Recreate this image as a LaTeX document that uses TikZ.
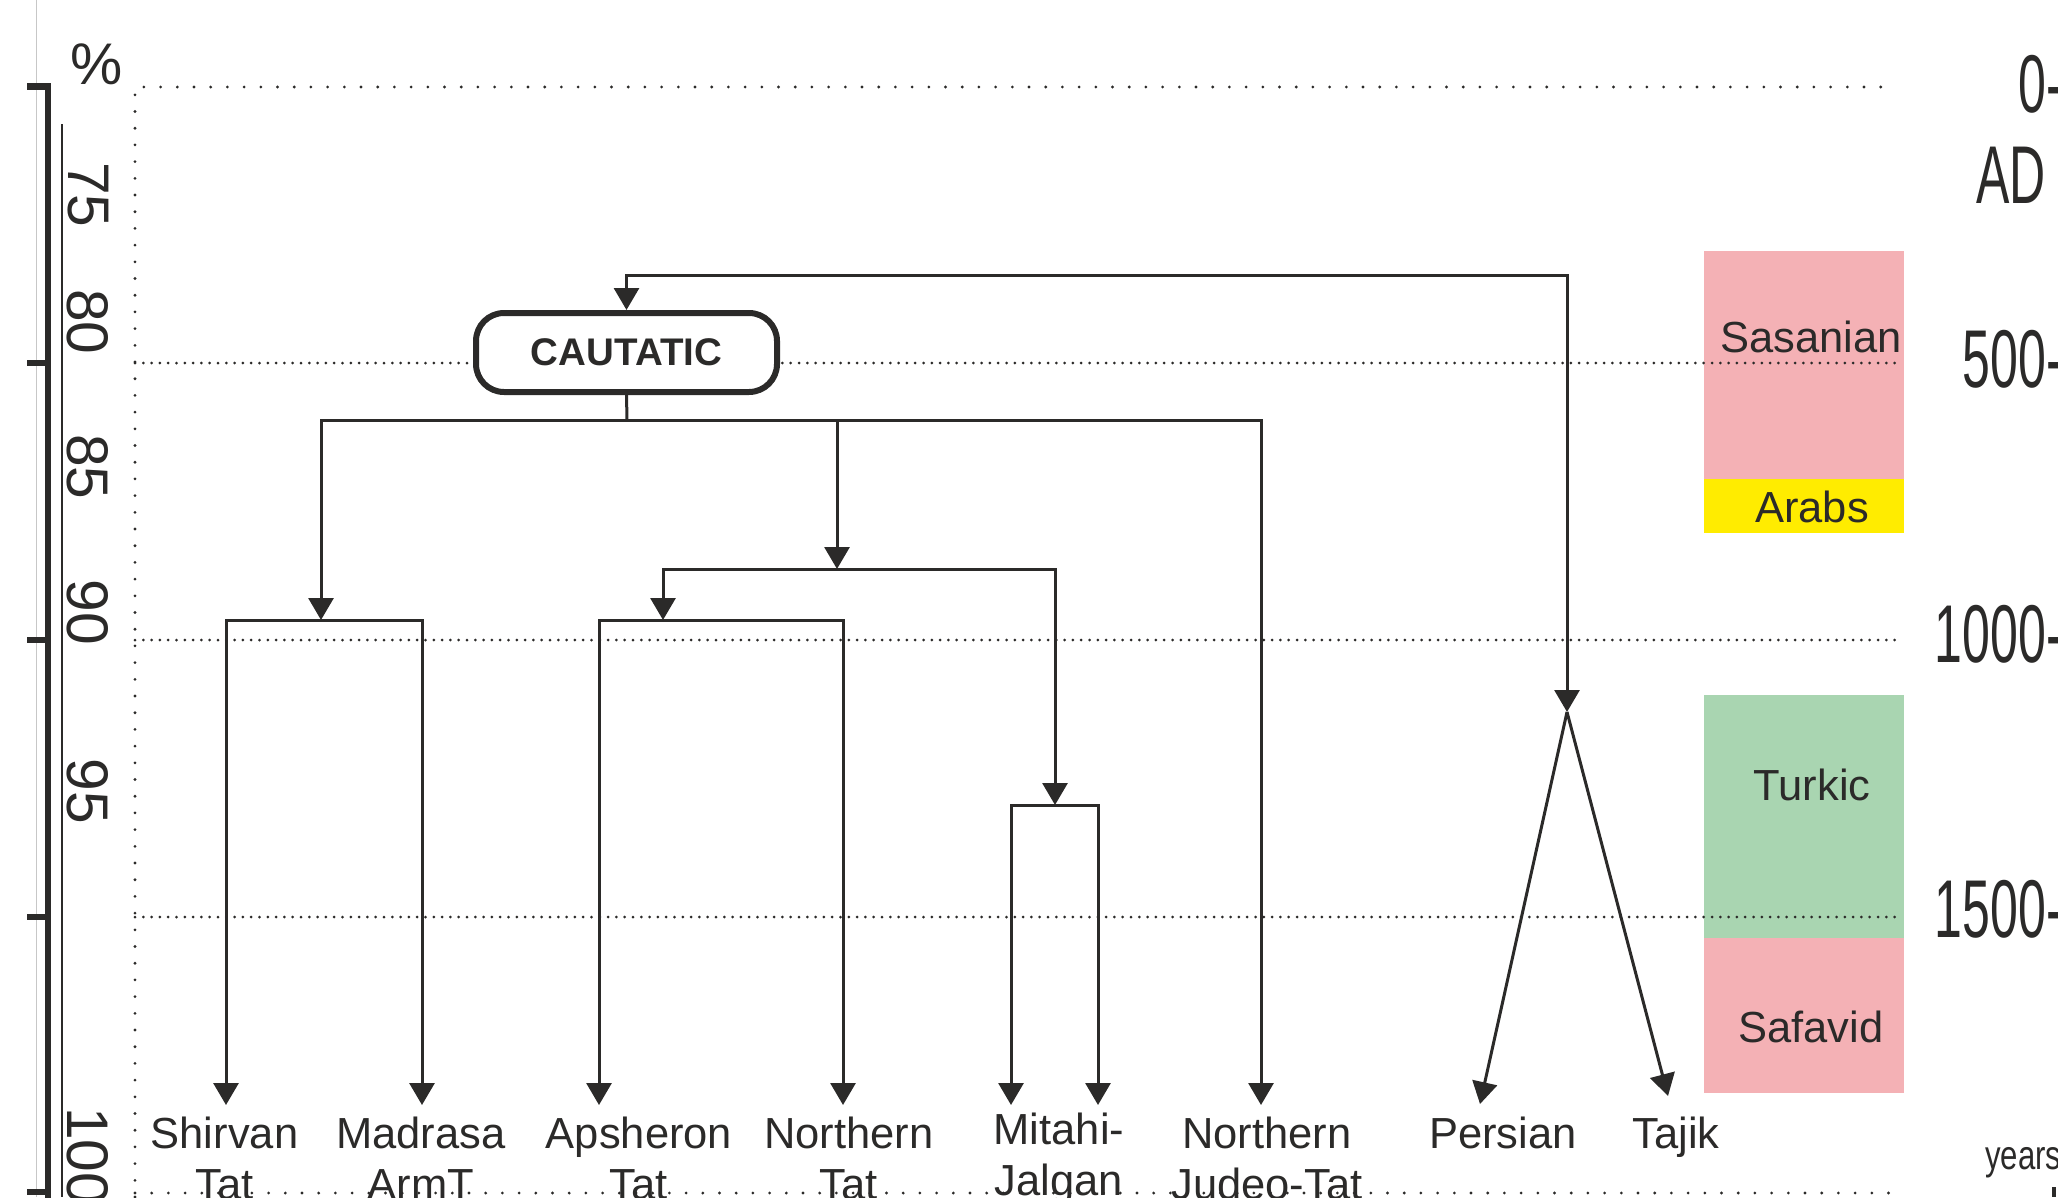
\documentclass[tikz,border=0pt]{standalone}
\usepackage{fontspec}
\setmainfont{Liberation Sans}
\newfontfamily\narrowfont[FakeStretch=0.61]{Liberation Sans}
\newfontfamily\semifont[FakeStretch=0.76]{Liberation Sans}
\usetikzlibrary{arrows.meta}
\definecolor{ink}{HTML}{2B2A29}
\definecolor{pinkbox}{HTML}{F4B1B5}
\definecolor{yellowbox}{HTML}{FFEC00}
\definecolor{greenbox}{HTML}{A9D5B1}
\begin{document}
\begin{tikzpicture}[x=1pt,y=-1pt,
  conn/.style={draw=ink, line width=3pt},
  arr/.style={conn, -{Triangle[width=25pt,length=22pt]}},
  leaf/.style={inner sep=0pt, anchor=north, align=center, text=ink, font=\fontsize{43.5}{51}\selectfont},
  era/.style={inner sep=0pt, anchor=base, text=ink, font=\fontsize{43.5}{51}\selectfont},
  pct/.style={inner sep=0pt, rotate=-90, text=ink, font=\fontsize{58.7}{60}\selectfont},
  yr/.style={inner sep=0pt, anchor=base east, text=ink, font=\narrowfont\fontsize{82}{84}\selectfont},
  densedot/.style={draw=ink, line width=3pt, line cap=round, dash pattern=on 0pt off 8.3pt},
  sparsedot/.style={draw=ink, line width=3.1pt, line cap=round, dash pattern=on 0pt off 16.7pt},
  period/.style={inner sep=0pt, outer sep=0pt, minimum width=200pt, anchor=north west},
]
\useasboundingbox (0,0) rectangle (2058,1197);

% faint page line
\draw[black!22, line width=0.8pt] (36,0) -- (36,1197);

% period boxes
\node[period, fill=pinkbox, minimum height=228pt] (sas) at (1704,251) {};
\node[period, fill=yellowbox, minimum height=54pt] (arab) at (1704,479) {};
\node[period, fill=greenbox, minimum height=243pt] (turk) at (1704,695) {};
\node[period, fill=pinkbox, minimum height=155pt] (safa) at (1704,938) {};

% dotted grid
\draw[sparsedot] (135,1197) -- (135,87) -- (1891,87);
\draw[sparsedot] (135,1193) -- (1899,1193);
\draw[densedot] (135,363) -- (1899,363);
\draw[densedot] (135,640) -- (1899,640);
\draw[densedot] (135,917) -- (1899,917);

% left axis
\draw[ink, line width=6.7pt] (27,86.5) -| (48,1200);
\foreach \yy in {363,640,917,1192} \draw[ink, line width=6.5pt] (27,\yy) -- (48,\yy);
\draw[ink, line width=1.3pt] (62,124) -- (62,1197);

\node[inner sep=0pt, text=ink, font=\fontsize{58.7}{60}\selectfont] (pc) at (97,64) {\%};
\node[pct] (p75) at (88,195) {75};
\node[pct] (p80) at (88,322) {80};
\node[pct] (p85) at (88,467) {85};
\node[pct] (p90) at (88,612) {90};
\node[pct] (p95) at (88,791) {95};
\node[pct, anchor=west] (p100) at (88,1107) {100};

% right year labels
\node[yr] (y0) at (2063,112) {0-};
\node[yr] (yad) at (2046,203) {AD};
\node[yr] (y500) at (2063,387) {500-};
\node[yr] (y1000) at (2063,662) {1000-};
\node[yr] (y1500) at (2063,937) {1500-};
\node[inner sep=0pt, anchor=base west, text=ink, font=\semifont\fontsize{41}{43}\selectfont] (yrs) at (1985,1169) {years};
\draw[ink, line width=4pt] (2054,1187) -- (2054,1197);

% period labels
\node[era] (lsas) at (1811,352) {Sasanian};
\node[era] (larab) at (1812,522) {Arabs};
\node[era] (lturk) at (1812,800) {Turkic};
\node[era] (lsaf) at (1811,1042) {Safavid};

% root
\node[draw=ink, line width=6pt, rounded corners=28pt, fill=white, minimum width=301pt, minimum height=79pt, inner sep=0pt, text=ink, font=\bfseries\fontsize{38.5}{40}\selectfont] (cau) at (626.5,352.5) {\raisebox{-1.5pt}{CAUTATIC}};

% leaves
\node[leaf] (shirvan) at (224.5,1117) {Shirvan\\Tat};
\node[leaf] (madrasa) at (421,1117) {Madrasa\\ArmT};
\node[leaf] (apsheron) at (639,1117) {Apsheron\\Tat};
\node[leaf] (northern) at (849,1117) {Northern\\Tat};
\node[leaf] (mitahi) at (1059,1113) {Mitahi-\\Jalgan};
\node[leaf] (judeo) at (1267,1117) {Northern\\Judeo-Tat};
\node[leaf] (persian) at (1503,1117) {Persian};
\node[leaf] (tajik) at (1676,1117) {Tajik};

% connector points
\coordinate (tSh) at (226,1105);
\coordinate (tMa) at (422,1105);
\coordinate (tAp) at (599,1105);
\coordinate (tNT) at (843,1105);
\coordinate (tMi) at (1011,1105);
\coordinate (tJa) at (1098,1105);
\coordinate (tNJ) at (1261,1105);
\coordinate (tPe) at (1480,1104);
\coordinate (tTa) at (1668,1096);
\coordinate (apex) at (1567,712);
\coordinate (topc) at (1567,275);
\coordinate (b1) at (627,420);
\coordinate (jSM) at (321,620);
\coordinate (jMid) at (837,569);
\coordinate (jAN) at (663,620);
\coordinate (jMJ) at (1055,805);

\draw[conn] (cau.south) -- (b1);
\draw[arr] (b1) -| (jSM);
\draw[arr] (b1) -| (jMid);
\draw[arr] (b1) -| (tNJ);
\draw[arr] (jSM) -| (tSh);
\draw[arr] (jSM) -| (tMa);
\draw[arr] (jMid) -| (jAN);
\draw[arr] (jMid) -| (jMJ);
\draw[arr] (jAN) -| (tAp);
\draw[arr] (jAN) -| (tNT);
\draw[arr] (jMJ) -| (tMi);
\draw[arr] (jMJ) -| (tJa);
\draw[conn, {Triangle[width=25pt,length=22pt]}-{Triangle[width=25pt,length=22pt]}] (cau.north) |- (topc) -- (apex);
\draw[arr] (apex) -- (tPe);
\draw[arr] (apex) -- (tTa);
\end{tikzpicture}
\end{document}
